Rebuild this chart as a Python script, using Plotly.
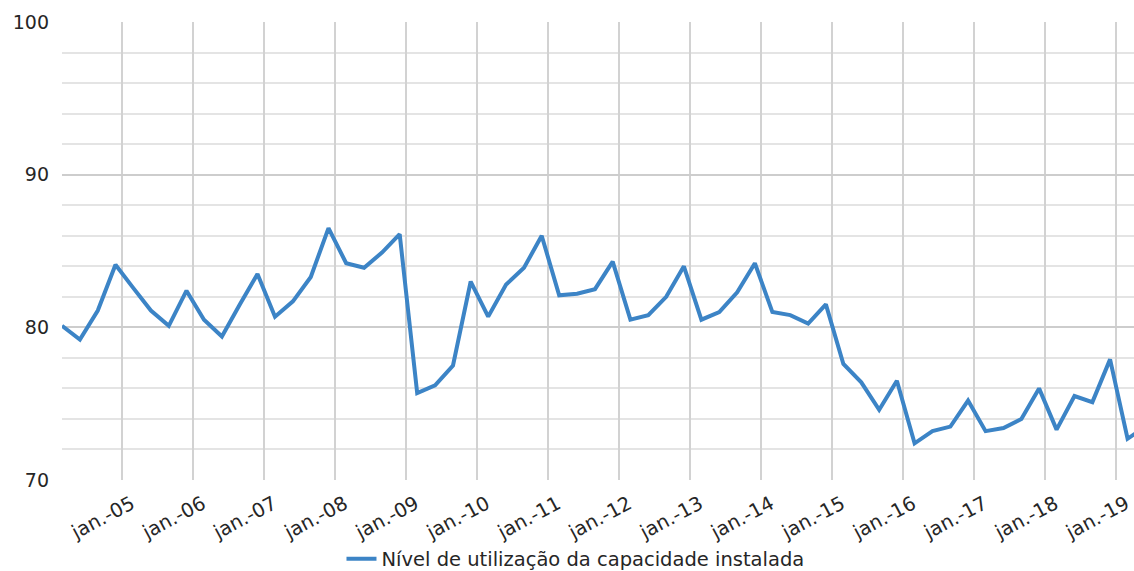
import pandas as pd
import plotly.graph_objects as go

# Quarterly observations (Mar, Jun, Sep, Dec), Mar 2004 – Jun 2019
dates = pd.date_range("2004-03-01", "2019-06-01", freq="3MS")
nuci = [
    80.1, 79.2, 81.1, 84.1,   # 2004
    82.6, 81.1, 80.1, 82.4,   # 2005
    80.5, 79.4, 81.5, 83.5,   # 2006
    80.7, 81.7, 83.3, 86.5,   # 2007
    84.2, 83.9, 84.9, 86.1,   # 2008
    75.7, 76.2, 77.5, 83.0,   # 2009
    80.7, 82.8, 83.9, 86.0,   # 2010
    82.1, 82.2, 82.5, 84.3,   # 2011
    80.5, 80.8, 82.0, 84.0,   # 2012
    80.5, 81.0, 82.3, 84.2,   # 2013
    81.0, 80.8, 80.25, 81.5,  # 2014
    77.6, 76.4, 74.6, 76.5,   # 2015
    72.4, 73.2, 73.5, 75.2,   # 2016
    73.2, 73.4, 74.0, 76.0,   # 2017
    73.3, 75.5, 75.1, 77.9,   # 2018
    72.7, 73.5,               # 2019
]

tick_years = list(range(2005, 2020))
tick_vals = [f"{y}-01-01" for y in tick_years]
tick_text = [f"jan.-{y % 100:02d}" for y in tick_years]

series_name = "Nível de utilização da capacidade instalada"
font_family = "DejaVu Sans, Verdana, sans-serif"

fig = go.Figure()
fig.add_trace(go.Scatter(
    x=dates, y=nuci, mode="lines", name=series_name,
    line=dict(color="#3c84c6", width=4),
))

fig.update_layout(
    width=1134, height=571,
    margin=dict(l=62, r=0, t=22, b=91),
    paper_bgcolor="white", plot_bgcolor="white",
    font=dict(family=font_family, size=18, color="#262626"),
    showlegend=True,
    legend=dict(orientation="h", x=0.479, xanchor="center",
                yref="container", y=0.021, yanchor="middle",
                font=dict(size=19.5, color="#262626"), bgcolor="rgba(0,0,0,0)"),
)

fig.update_xaxes(
    type="date", range=["2004-03-01", "2019-04-03"],
    tickmode="array", tickvals=tick_vals, ticktext=tick_text,
    tickangle=-28, showgrid=True, gridcolor="#d2d2d2", gridwidth=1.5,
    zeroline=False, showline=False, ticks="", automargin=False,
    ticklabelshift=10, ticklabelstandoff=8,
    tickfont=dict(size=19.5, color="#262626"),
)
fig.update_yaxes(
    range=[70, 100], dtick=10, tick0=70,
    showgrid=True, gridcolor="#cdcdcd", gridwidth=1.5,
    minor=dict(dtick=2, showgrid=True, gridcolor="#e4e4e4", gridwidth=1.5),
    zeroline=False, showline=False, ticks="", automargin=False,
    ticklabelstandoff=12,
    tickfont=dict(size=19, color="#262626"),
)

fig.write_html("out.html")
